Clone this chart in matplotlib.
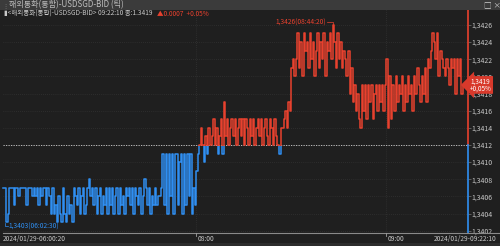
import matplotlib
matplotlib.use("Agg")
import matplotlib.pyplot as plt
from matplotlib.patches import Rectangle
from matplotlib.lines import Line2D
import numpy as np

plt.rcParams['font.family'] = ['Noto Sans CJK KR', 'DejaVu Sans']

# tick prices in pips above 1.3400 (1 pip = 0.0001)
base = 1.3400
pips = [
    # 06:00 ~
    7, 7, 3, 4, 7, 7, 7, 5, 7, 7, 6, 7, 7, 7, 7, 5, 7, 7, 7, 6,
    7, 6, 7, 5, 7, 6, 7, 7, 5, 7, 6, 4, 7, 4, 5, 3, 6, 4, 3, 7, 4, 3, 6,
    4, 5, 3, 7, 6, 5, 7, 4, 6, 7, 4, 5, 7, 8, 6, 7, 5, 7, 4, 6,
    7, 4, 6, 5, 7, 4, 7, 5, 7, 4, 6, 7, 4, 7, 5, 6, 4, 7, 6, 7,
    5, 7, 4, 7, 6, 5, 7, 4, 6, 8, 7, 5, 7, 4, 6, 5, 7, 5, 6,
    6, 7, 11, 5, 11, 4, 11, 6, 11, 4, 11, 11, 5, 10, 11, 4, 11, 5, 11, 6,
    11, 4, 7, 5,
    # 08:00 ~
    9, 11, 12,
    14, 12, 10, 13, 11, 14, 12, 13, 15, 12, 14, 11, 13, 15, 11, 17, 13, 15,
    12, 14, 15, 13, 15, 12, 14, 15, 13, 15, 12, 15, 14, 12, 15, 13, 15, 12,
    14, 15, 13, 15, 12, 14, 15, 13, 12, 15, 14, 12, 15, 13, 12, 11, 14,
    14, 15, 16, 14, 17, 16, 21, 22, 20, 22,
    25, 21, 24, 20, 25, 23, 24, 21, 25, 22, 24, 20, 23, 25, 21, 24, 22, 25,
    20, 24, 23, 25, 22, 26, 24, 21, 25, 22, 24, 21, 23, 22,
    20, 23, 18, 21, 17, 19, 16, 18, 15, 14,
    19, 16, 19, 15, 19, 17, 19, 15, 18, 19, 16, 19, 17, 19, 16, 19,
    # 09:00 ~
    22, 14, 20, 15,
    19, 16, 20, 17, 19, 18, 20, 16, 19, 17, 20, 18, 19, 16, 20, 18, 21, 19,
    17, 20, 18, 21, 17,
    22, 21, 23, 25, 24, 22, 25, 20, 23,
    22, 21, 20, 22, 21, 19, 22, 21, 22, 18, 22, 20, 22, 18, 19,
]
prev_close = 1.3412
time_ticks = ["08:00", "09:00"]
time_tick_idx = [126, 250]
start_label = "2024/01/29-06:00:20"
end_label = "2024/01/29-09:22:10"
y_ticks = [1.3402, 1.3404, 1.3406, 1.3408, 1.3410, 1.3412, 1.3414,
           1.3416, 1.3418, 1.3420, 1.3422, 1.3424, 1.3426]

prices = base + np.array(pips) / 10000.0
idx = np.arange(len(prices))
n = len(prices)

BG = '#1f1f1f'
RED = '#e8412e'
BLUE = '#2f8ff2'
TXT = '#c8c8c8'

fig = plt.figure(figsize=(5.0, 2.46), dpi=100, facecolor=BG)
W, H = 500.0, 246.0

# title bar
fig.patches.append(Rectangle((0, (H - 9.5) / H), 1, 9.5 / H, transform=fig.transFigure,
                             facecolor='#3b3b3b', edgecolor='none', zorder=0))
fig.text(9 / W, (H - 4.8) / H, "해외통화(통합)-USDSGD-BID (틱)", color='#bdbdbd',
         fontsize=5.8, va='center', ha='left')
fig.text(2 / W, (H - 4.8) / H, "⋮", color='#888888', fontsize=4.5, va='center')
fig.text(484 / W, (H - 4.8) / H, "□ ×", color='#d0d0d0', fontsize=5.5, va='center')

ax = fig.add_axes([3 / W, 13 / H, 464.7 / W, 226 / H])
ax.set_facecolor(BG)
xr = (467.7 - 3) / (460.0 / (n - 1))
ax.set_xlim(0, xr)
ax.set_ylim(1.340173, 1.342809)

# grid
for yv in y_ticks:
    ax.axhline(yv, color='#3a3a3a', lw=0.5, ls=(0, (1, 2)), zorder=1)
for xi in time_tick_idx:
    ax.axvline(xi, color='#3a3a3a', lw=0.5, ls=(0, (1, 2)), zorder=1)
ax.axhline(prev_close, color='#d0d0d0', lw=0.6, ls=(0, (1.5, 1.5)), zorder=2)

# price line, red at/above previous close, blue below
split = prev_close - 0.000007
lr, = ax.step(idx, prices, where='post', color=RED, lw=1.1, zorder=3)
lb, = ax.step(idx, prices, where='post', color=BLUE, lw=1.1, zorder=3)
lr.set_clip_path(Rectangle((-10, split), n + 20, 0.01, transform=ax.transData))
lb.set_clip_path(Rectangle((-10, split - 0.01), n + 20, 0.01, transform=ax.transData))

# right axis line
ylo, yhi = ax.get_ylim()
fpc = (prev_close - ylo) / (yhi - ylo)
ax.axvline(xr, ymin=fpc, ymax=1, color=RED, lw=1.2, clip_on=False, zorder=4)
ax.axvline(xr, ymin=0, ymax=fpc, color=BLUE, lw=1.2, clip_on=False, zorder=4)

for s in ax.spines.values():
    s.set_visible(False)
ax.yaxis.tick_right()
ax.set_yticks(y_ticks)
ax.set_yticklabels([f"{v:.4f}".replace('.', ',') for v in y_ticks])
ax.tick_params(axis='y', colors='#777777', labelcolor=TXT, labelsize=5, length=2,
               width=0.5, pad=1)
ax.set_xticks([])

# max / min annotations
imax = int(np.argmax(prices))
imin = int(np.argmin(prices))
ymax_t = prices[imax] + 0.00003
ax.text(imax - 4, ymax_t, "1,3426(08:44:20)", color=RED, fontsize=4.8,
        ha='right', va='center', zorder=5)
ax.plot([imax - 4, imax, imax], [ymax_t, ymax_t, prices[imax]], color=RED, lw=0.5, zorder=5)
ax.plot([imin - 1, imin - 1, imin + 1], [prices[imin] - 0.00001, prices[imin] - 0.00005,
        prices[imin] - 0.00005], color=BLUE, lw=0.5, zorder=5)
ax.text(imin + 1.5, prices[imin] - 0.00005, "1,3403(06:02:30)", color=BLUE,
        fontsize=4.8, ha='left', va='center', zorder=5)

# info line
fig.text(4 / W, (H - 13.5) / H, "▮<해외통화(통합)-USDSGD-BID> 09:22:10 종:1.3419",
         color=TXT, fontsize=4.7, va='center', ha='left')
fig.text(157 / W, (H - 13.5) / H, "▲0.0007  +0.05%", color=RED, fontsize=4.7,
         va='center', ha='left')

# current price tag
ax.text(xr + 1.5, base + pips[-1] / 10000.0, "1,3419\n+0,05%", color='white',
        fontsize=4.6, ha='left', va='center', linespacing=0.9, zorder=6, clip_on=False,
        bbox=dict(boxstyle='larrow,pad=0.18', facecolor='#d8392b', edgecolor='none'))

# time axis
fig.add_artist(Line2D([3 / W, 1], [(H - 233) / H] * 2, color='#8a8a8a', lw=0.8))
fig.patches.append(Rectangle((0, 0), 1, (H - 242.5) / H, transform=fig.transFigure,
                             facecolor='#2c2c2c', edgecolor='none'))
ty = (H - 239) / H
fig.text(3 / W, ty, start_label, color=TXT, fontsize=4.8, va='center', ha='left')
fig.text(497 / W, ty, end_label, color=TXT, fontsize=4.8, va='center', ha='right')
for lab, xi in zip(time_ticks, time_tick_idx):
    xf = (3 + xi * 460.0 / (n - 1)) / W
    fig.add_artist(Line2D([xf, xf], [(H - 233) / H, (H - 236) / H], color='#a0a0a0', lw=0.6))
    fig.text(xf + 0.002, ty, lab, color=TXT, fontsize=4.8, va='center', ha='left')

fig.savefig("out.png", dpi=100, facecolor=BG)
